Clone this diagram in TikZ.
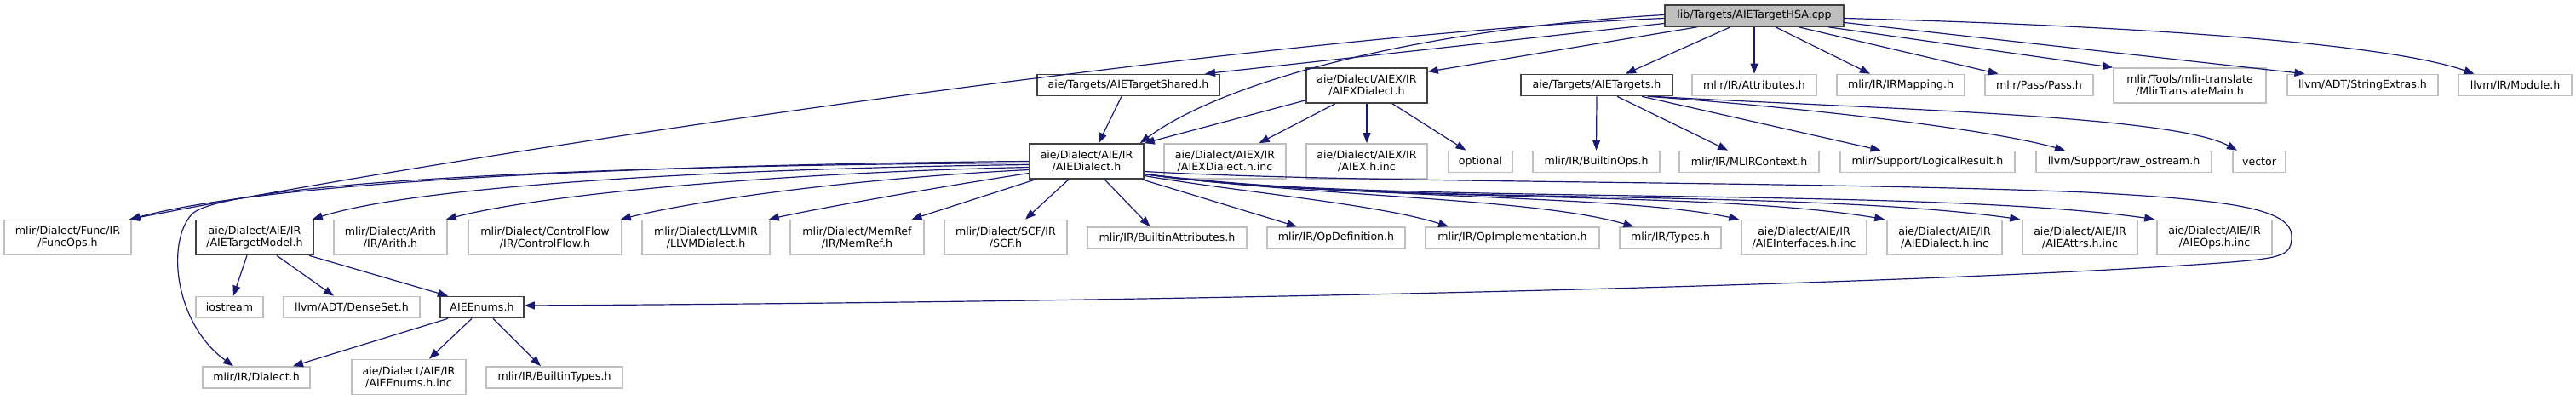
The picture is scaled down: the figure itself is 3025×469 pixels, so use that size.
\documentclass[tikz,border=0pt]{standalone}
\usepackage{fontspec}
\setmainfont{DejaVu Sans}
\usetikzlibrary{arrows.meta}
\definecolor{edgeblue}{HTML}{191970}
\definecolor{extgray}{HTML}{BFBFBF}
\definecolor{docgray}{HTML}{404040}
\definecolor{rootfill}{HTML}{BFBFBF}
\tikzset{
  basebox/.style={rectangle, inner sep=0pt, align=center, font=\fontsize{12.6}{14}\selectfont, line width=1.6pt},
  ext/.style={basebox, draw=extgray},
  doc/.style={basebox, draw=docgray},
  rootnode/.style={basebox, draw=docgray, fill=rootfill},
  sone/.style={minimum height=25pt},
  stwo/.style={minimum height=41pt},
  dep/.style={draw=edgeblue, line width=1.2pt, -{Triangle[length=12pt,width=9pt,fill=edgeblue]}}
}
\begin{document}
\begin{tikzpicture}[x=1pt,y=-1pt]
\useasboundingbox (0,0) rectangle (3025,469);
% row 1
\node[rootnode, sone, minimum width=210pt] (hsa) at (2060,18.5) {lib/Targets/AIETargetHSA.cpp};
% row 2
\node[doc, sone, minimum width=214pt] (shared) at (1325,100) {aie/Targets/AIETargetShared.h};
\node[doc, stwo, minimum width=142pt] (aiexd) at (1605,100.5) {aie/Dialect/AIEX/IR\\/AIEXDialect.h};
\node[doc, sone, minimum width=178pt] (targets) at (1875,100) {aie/Targets/AIETargets.h};
\node[ext, sone, minimum width=146pt] (attrs) at (2060,100) {mlir/IR/Attributes.h};
\node[ext, sone, minimum width=150pt] (irmap) at (2232,100) {mlir/IR/IRMapping.h};
\node[ext, sone, minimum width=127pt] (pass) at (2394.5,100) {mlir/Pass/Pass.h};
\node[ext, stwo, minimum width=179pt] (mtm) at (2571.5,100.5) {mlir/Tools/mlir-translate\\/MlirTranslateMain.h};
\node[ext, sone, minimum width=177pt] (strext) at (2774.5,100) {llvm/ADT/StringExtras.h};
\node[ext, sone, minimum width=133pt] (module) at (2953.5,100) {llvm/IR/Module.h};
% row 3
\node[doc, stwo, minimum width=134pt] (aied) at (1276,189.5) {aie/Dialect/AIE/IR\\/AIEDialect.h};
\node[ext, stwo, minimum width=143pt] (aiexinc) at (1438.5,189.5) {aie/Dialect/AIEX/IR\\/AIEXDialect.h.inc};
\node[ext, stwo, minimum width=142pt] (aiexhinc) at (1605,189.5) {aie/Dialect/AIEX/IR\\/AIEX.h.inc};
\node[ext, sone, minimum width=75pt] (optional) at (1738.5,190) {optional};
\node[ext, sone, minimum width=149pt] (builtinops) at (1874.5,190) {mlir/IR/BuiltinOps.h};
\node[ext, sone, minimum width=164pt] (mlirctx) at (2054,190) {mlir/IR/MLIRContext.h};
\node[ext, sone, minimum width=205pt] (logres) at (2263.5,190) {mlir/Support/LogicalResult.h};
\node[ext, sone, minimum width=206pt] (rawos) at (2494,190) {llvm/Support/raw\_ostream.h};
\node[ext, sone, minimum width=62pt] (vector) at (2653,190) {vector};
% row 4
\node[ext, stwo, minimum width=149pt] (funcops) at (79.5,279) {mlir/Dialect/Func/IR\\/FuncOps.h};
\node[doc, stwo, minimum width=138pt] (tmodel) at (299,279) {aie/Dialect/AIE/IR\\/AIETargetModel.h};
\node[ext, stwo, minimum width=133pt] (arith) at (458.5,279) {mlir/Dialect/Arith\\/IR/Arith.h};
\node[ext, stwo, minimum width=180pt] (cflow) at (640,279) {mlir/Dialect/ControlFlow\\/IR/ControlFlow.h};
\node[ext, stwo, minimum width=150pt] (llvmd) at (829,279) {mlir/Dialect/LLVMIR\\/LLVMDialect.h};
\node[ext, stwo, minimum width=157pt] (memref) at (1006.5,279) {mlir/Dialect/MemRef\\/IR/MemRef.h};
\node[ext, stwo, minimum width=144pt] (scf) at (1181,279) {mlir/Dialect/SCF/IR\\/SCF.h};
\node[ext, sone, minimum width=187pt] (battr) at (1370.5,279.5) {mlir/IR/BuiltinAttributes.h};
\node[ext, sone, minimum width=162pt] (opdef) at (1569,279.5) {mlir/IR/OpDefinition.h};
\node[ext, sone, minimum width=204pt] (opimpl) at (1776,279.5) {mlir/IR/OpImplementation.h};
\node[ext, sone, minimum width=119pt] (types) at (1961.5,279.5) {mlir/IR/Types.h};
\node[ext, stwo, minimum width=147pt] (ifinc) at (2118.5,279) {aie/Dialect/AIE/IR\\/AIEInterfaces.h.inc};
\node[ext, stwo, minimum width=135pt] (dinc) at (2283.5,279) {aie/Dialect/AIE/IR\\/AIEDialect.h.inc};
\node[ext, stwo, minimum width=135pt] (attrinc) at (2442.5,279) {aie/Dialect/AIE/IR\\/AIEAttrs.h.inc};
\node[ext, stwo, minimum width=135pt] (opsinc) at (2600.5,279) {aie/Dialect/AIE/IR\\/AIEOps.h.inc};
% row 5
\node[ext, sone, minimum width=79pt] (iostream) at (269.5,361) {iostream};
\node[ext, sone, minimum width=160pt] (denseset) at (413,361) {llvm/ADT/DenseSet.h};
\node[doc, sone, minimum width=98pt] (enums) at (566,361) {AIEEnums.h};
% row 6
\node[ext, sone, minimum width=126pt] (dialect) at (301,443.5) {mlir/IR/Dialect.h};
\node[ext, stwo, minimum width=134pt] (enumsinc) at (480,443) {aie/Dialect/AIE/IR\\/AIEEnums.h.inc};
\node[ext, sone, minimum width=160pt] (btypes) at (651,443.5) {mlir/IR/BuiltinTypes.h};

% edges from the root
\draw[dep] ([yshift=-3pt]hsa.west) .. controls (1500,40) and (600,170) .. ([xshift=-3pt]funcops.north east);
\draw[dep] ([yshift=-9pt]hsa.west) -- ([xshift=90pt]shared.north);
\draw[dep] ([yshift=1pt]hsa.west) .. controls (1650,35) and (1430,100) .. ([xshift=-5pt]aied.north east);
\draw[dep] ([xshift=-67pt]hsa.south) -- ([yshift=-5pt]aiexd.north east);
\draw[dep] ([xshift=-28pt]hsa.south) -- ([xshift=34pt]targets.north);
\draw[dep] (hsa.south) -- (attrs.north);
\draw[dep] ([xshift=25pt]hsa.south) -- ([xshift=-36pt]irmap.north);
\draw[dep] ([xshift=52pt]hsa.south) -- ([xshift=-48pt]pass.north);
\draw[dep] ([xshift=87pt]hsa.south) -- (mtm.north west);
\draw[dep] ([yshift=-8pt]hsa.east) -- ([xshift=-68pt]strext.north);
\draw[dep] ([yshift=-3pt]hsa.east) .. controls (2500,30) and (2800,50) .. ([xshift=-48pt]module.north);

% AIETargetShared
\draw[dep] ([xshift=-8pt]shared.south) -- ([xshift=14pt]aied.north);

% AIEXDialect
\draw[dep] ([yshift=4pt]aiexd.south west) -- (aied.north east);
\draw[dep] ([xshift=-37pt]aiexd.south) -- ([xshift=40pt]aiexinc.north);
\draw[dep] (aiexd.south) -- (aiexhinc.north);
\draw[dep] ([xshift=30pt]aiexd.south) -- ([xshift=-17pt]optional.north);

% AIETargets
\draw[dep] (targets.south) -- (builtinops.north);
\draw[dep] ([xshift=24pt]targets.south) -- ([xshift=-25pt]mlirctx.north);
\draw[dep] ([xshift=53pt]targets.south) -- ([xshift=-55pt]logres.north);
\draw[dep] ([xshift=60pt]targets.south) .. controls (2100,125) and (2330,150) .. ([xshift=-69pt]rawos.north);
\draw[dep] ([xshift=66pt]targets.south) .. controls (2200,128) and (2550,135) .. ([xshift=-26pt]vector.north);

% AIEDialect, left side
\draw[dep] (aied.west) .. controls (900,192) and (350,205) .. ([xshift=-2pt]funcops.north east);
\draw[dep] ([yshift=-2pt]aied.west) .. controls (700,194) and (260,214) .. (225,252) .. controls (195,285) and (205,380) .. ([xshift=-27pt]dialect.north);
\draw[dep] ([yshift=-4pt]aied.west) .. controls (900,197) and (500,215) .. ([xshift=-2pt]tmodel.north east);
\draw[dep] ([yshift=-7pt]aied.west) .. controls (950,202) and (650,225) .. ([xshift=-2pt]arith.north east);
\draw[dep] ([yshift=-10pt]aied.west) .. controls (1000,210) and (820,235) .. ([xshift=-2pt]cflow.north east);
\draw[dep] ([yshift=-14pt]aied.west) .. controls (1100,220) and (960,245) .. ([xshift=-2pt]llvmd.north east);
% AIEDialect, bottom
\draw[dep] ([xshift=8pt]aied.south west) -- ([xshift=64pt]memref.north);
\draw[dep] ([xshift=-21pt]aied.south) -- ([xshift=23pt]scf.north);
\draw[dep] ([xshift=21pt]aied.south) -- ([xshift=-20pt]battr.north);
\draw[dep] ([xshift=-3pt]aied.south east) -- ([xshift=-46pt]opdef.north);
\draw[dep] ([yshift=-17pt]aied.east) .. controls (1450,225) and (1620,240) .. ([xshift=-75pt]opimpl.north);
% AIEDialect, right side
\draw[dep] ([yshift=-15pt]aied.east) .. controls (1550,232) and (1800,232) .. ([xshift=-43pt]types.north);
\draw[dep] ([yshift=-15pt]aied.east) .. controls (1600,235) and (1900,228) .. ([xshift=-2pt]ifinc.north west);
\draw[dep] ([yshift=-15pt]aied.east) .. controls (1600,240) and (2000,222) .. ([xshift=-2pt]dinc.north west);
\draw[dep] ([yshift=-15pt]aied.east) .. controls (1600,242) and (2100,220) .. ([xshift=-2pt]attrinc.north west);
\draw[dep] ([yshift=-15pt]aied.east) .. controls (1600,242) and (2250,218) .. ([xshift=-2pt]opsinc.north west);
\draw[dep] ([yshift=-12pt]aied.east) .. controls (1600,216) and (2100,212) .. (2450,226) .. controls (2620,235) and (2691,245) .. (2691,278) .. controls (2691,300) and (2680,303) .. (2620,308) .. controls (2300,332) and (1500,354) .. ([yshift=2pt]enums.east);

% AIETargetModel
\draw[dep] ([xshift=-9pt]tmodel.south) -- ([xshift=4.5pt]iostream.north);
\draw[dep] ([xshift=26pt]tmodel.south) -- ([xshift=-21pt]denseset.north);
\draw[dep] ([xshift=64pt]tmodel.south) -- ([xshift=-40pt]enums.north);

% AIEEnums
\draw[dep] ([xshift=-40pt]enums.south) -- ([xshift=43pt]dialect.north);
\draw[dep] ([xshift=-12pt]enums.south) -- ([xshift=24pt]enumsinc.north);
\draw[dep] ([xshift=13pt]enums.south) -- ([xshift=-16pt]btypes.north);
\end{tikzpicture}
\end{document}
